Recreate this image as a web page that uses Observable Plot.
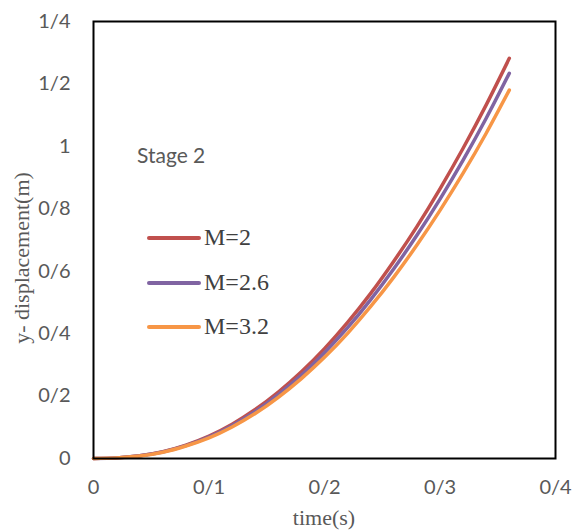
<!DOCTYPE html>
<html>
<head>
<meta charset="utf-8">
<script src="https://cdn.jsdelivr.net/npm/d3@7"></script>
<script src="https://cdn.jsdelivr.net/npm/@observablehq/plot@0.6"></script>
<style>
  html, body { margin: 0; padding: 0; background: #fff; }
  #wrap { position: relative; width: 572px; height: 532px; }
  .lab { position: absolute; white-space: nowrap; line-height: 1; }
  .sw { position: absolute; height: 4px; border-radius: 2px; width: 54px; }
</style>
</head>
<body>
<div id="wrap"></div>
<script>
const time = [0, 0.02, 0.04, 0.06, 0.08, 0.10, 0.12, 0.14, 0.16, 0.18, 0.20, 0.22, 0.24, 0.26, 0.28, 0.30, 0.32, 0.34, 0.36];
const m2   = [0, 0.002, 0.009, 0.022, 0.043, 0.072, 0.110, 0.157, 0.213, 0.278, 0.352, 0.436, 0.529, 0.632, 0.743, 0.864, 0.994, 1.133, 1.282];
const m26  = [0, 0.002, 0.009, 0.021, 0.041, 0.069, 0.106, 0.151, 0.205, 0.267, 0.339, 0.419, 0.509, 0.608, 0.715, 0.831, 0.956, 1.090, 1.234];
const m32  = [0, 0.002, 0.008, 0.020, 0.040, 0.066, 0.101, 0.144, 0.196, 0.256, 0.324, 0.401, 0.487, 0.581, 0.684, 0.795, 0.914, 1.042, 1.180];
const seriesNames = ["M=2", "M=2.6", "M=3.2"];
const seriesColors = ["#C0504D", "#8064A2", "#F79646"];
const xTicks = [0, 0.1, 0.2, 0.3, 0.4];
const xTickLabels = ["0", "0/1", "0/2", "0/3", "0/4"];
const yTicks = [0, 0.2, 0.4, 0.6, 0.8, 1.0, 1.2, 1.4];
const yTickLabels = ["0", "0/2", "0/4", "0/6", "0/8", "1", "1/2", "1/4"];
const stageLabel = "Stage 2";

const allSeries = [m2, m26, m32];
const rows = [];
allSeries.forEach((vals, i) => vals.forEach((v, j) => rows.push({t: time[j], y: v, s: seriesNames[i]})));

const sans = "Lato, 'Open Sans', sans-serif";
const serif = "'Liberation Serif', 'DejaVu Serif', serif";

const chart = Plot.plot({
  width: 572, height: 532,
  marginLeft: 93, marginRight: 17, marginTop: 21, marginBottom: 74,
  style: {fontFamily: sans, fontSize: "20px", color: "#595959", background: "#fff"},
  x: {domain: [0, 0.4]},
  y: {domain: [0, 1.4]},
  color: {domain: seriesNames, range: seriesColors},
  marks: [
    Plot.axisX({ticks: xTicks, tickFormat: d => xTickLabels[xTicks.indexOf(d)], tickSize: 0, tickPadding: 21, fontSize: 20, fill: "#595959", label: null}),
    Plot.axisY({ticks: yTicks, tickFormat: d => yTickLabels[yTicks.findIndex(v => Math.abs(v - d) < 1e-9)], tickSize: 0, tickPadding: 23, fontSize: 20, fill: "#595959", label: null}),
    Plot.line(rows, {x: "t", y: "y", z: "s", stroke: "s", strokeWidth: 3.5, curve: "natural"}),
    Plot.frame({stroke: "black", strokeWidth: 2})
  ]
});
const wrap = document.getElementById("wrap");
wrap.appendChild(chart);

function addLab(text, left, top, font, size, color) {
  const d = document.createElement("div");
  d.className = "lab";
  d.textContent = text;
  d.style.left = left + "px"; d.style.top = top + "px";
  d.style.fontFamily = font; d.style.fontSize = size + "px"; d.style.color = color;
  wrap.appendChild(d);
  return d;
}
// axis titles
const xt = addLab("time(s)", 0, 507, serif, 22, "#595959");
xt.style.width = "648px"; xt.style.textAlign = "center";
const yt = addLab("y- displacement(m)", 0, 0, serif, 22, "#595959");
yt.style.left = "-78px"; yt.style.top = "247px"; yt.style.width = "200px"; yt.style.textAlign = "center";
yt.style.transform = "rotate(-90deg)";
// stage label
addLab(stageLabel, 137, 144, sans, 21, "#595959");
// legend
const legTops = [238, 283, 327];
seriesNames.forEach((n, i) => {
  const sw = document.createElement("div");
  sw.className = "sw";
  sw.style.left = "147px"; sw.style.top = (legTops[i] - 2) + "px";
  sw.style.background = seriesColors[i];
  wrap.appendChild(sw);
  addLab(n, 204, legTops[i] - 13, serif, 24, "#404040");
});
</script>
</body>
</html>
